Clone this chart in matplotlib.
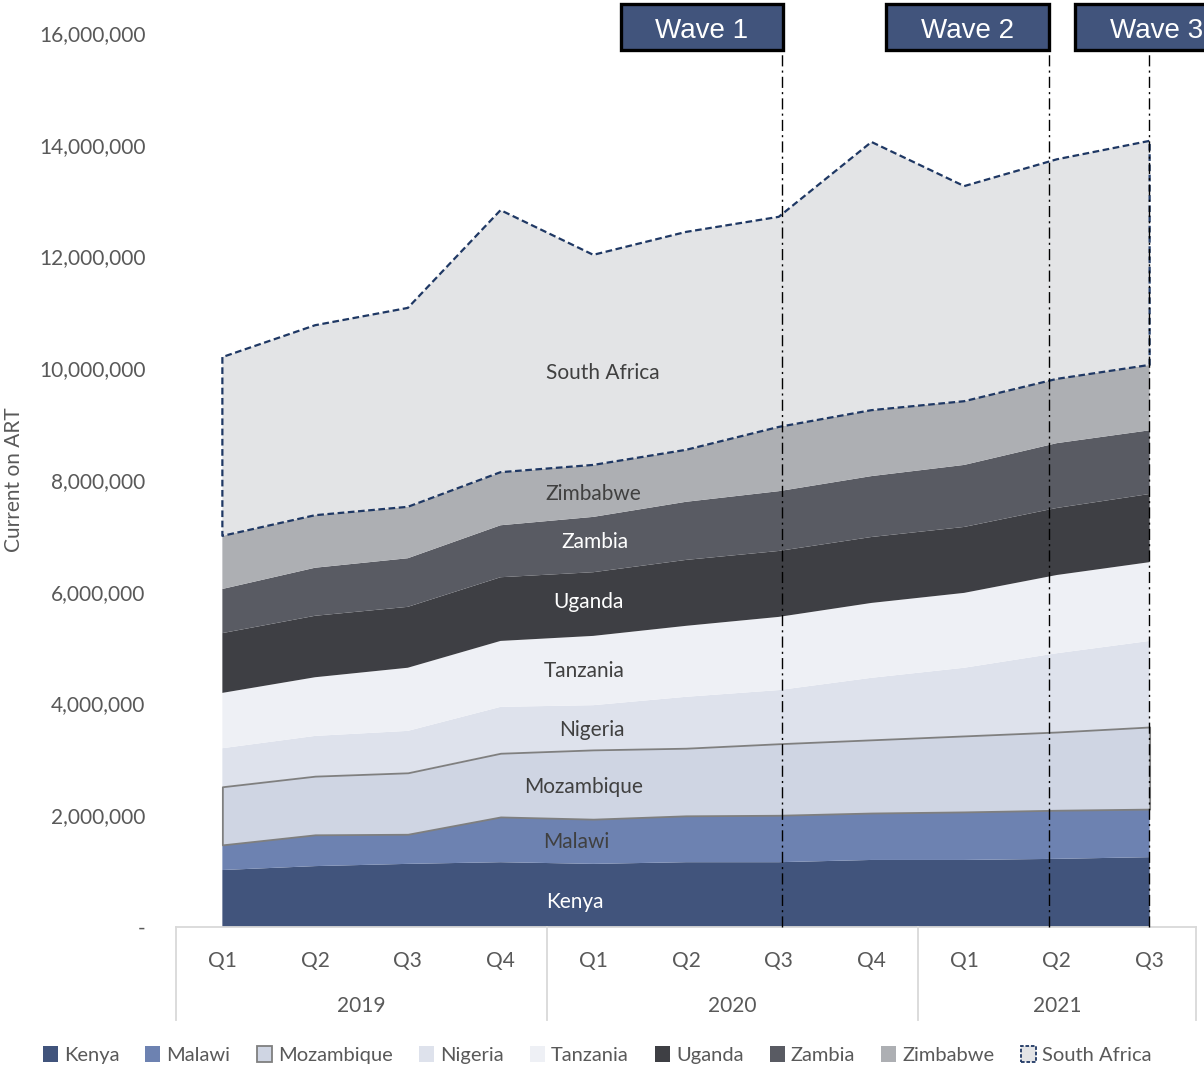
import matplotlib
matplotlib.use("Agg")
import matplotlib.pyplot as plt
from matplotlib.patches import Patch, Rectangle
from matplotlib.ticker import FuncFormatter
import matplotlib.transforms as mtransforms
import numpy as np

plt.rcParams["font.family"] = ["Lato", "DejaVu Sans"]

# quarterly current-on-ART counts, in thousands
quarters = ["Q1", "Q2", "Q3", "Q4", "Q1", "Q2", "Q3", "Q4", "Q1", "Q2", "Q3"]
years = ["2019", "2020", "2021"]
year_spans = [(0, 3), (4, 7), (8, 10)]

countries = ["Kenya", "Malawi", "Mozambique", "Nigeria", "Tanzania",
             "Uganda", "Zambia", "Zimbabwe", "South Africa"]
kenya = [1020, 1090, 1130, 1160, 1130, 1160, 1160, 1200, 1200, 1220, 1250]
malawi = [450, 560, 530, 810, 800, 830, 840, 840, 860, 870, 860]
mozambique = [1040, 1050, 1100, 1140, 1240, 1210, 1280, 1310, 1360, 1400, 1470]
nigeria = [690, 720, 750, 830, 800, 920, 960, 1110, 1220, 1410, 1540]
tanzania = [990, 1050, 1130, 1180, 1240, 1270, 1310, 1340, 1340, 1400, 1410]
uganda = [1070, 1100, 1090, 1140, 1140, 1180, 1180, 1180, 1180, 1200, 1220]
zambia = [790, 860, 870, 930, 990, 1040, 1070, 1090, 1110, 1160, 1140]
zimbabwe = [950, 940, 920, 950, 930, 930, 1150, 1180, 1140, 1150, 1170]
south_africa = [3200, 3400, 3560, 4690, 3760, 3900, 3760, 4800, 3850, 3930, 4010]

waves = ["Wave 1", "Wave 2", "Wave 3"]
wave_x = [6.03, 8.92, 9.99]

series = [kenya, malawi, mozambique, nigeria, tanzania,
          uganda, zambia, zimbabwe, south_africa]
colors = ["#41547c", "#6d82b1", "#cfd5e3", "#dee2ec", "#eef0f5",
          "#3e3f44", "#595b63", "#adafb3", "#e3e4e6"]
label_colors = ["white", "#404040", "#404040", "#404040", "#404040",
                "white", "white", "#404040", "#404040"]
label_dx = [-0.2, -0.18, -0.1, -0.02, -0.1, -0.05, 0.02, 0.0, 0.1]
label_dy = [-120, 0, -50, -50, 0, 30, 50, -50, -240]  # thousands
NAVY = "#1f3864"

fig = plt.figure(figsize=(12.04, 10.73), dpi=100)
ax = fig.add_axes([176 / 1204, 1 - 927 / 1073, 1020 / 1204, 894 / 1073])

x = np.arange(len(quarters))
base = np.zeros(len(x))
for name, vals, c in zip(countries, series, colors):
    top = base + np.array(vals) * 1000
    if name == "South Africa":
        ax.fill_between(x, base, top, facecolor=c, edgecolor=NAVY,
                        linestyle=(0, (3, 1.6)), linewidth=1.6, zorder=2)
    elif name == "Mozambique":
        ax.fill_between(x, base, top, facecolor=c, edgecolor="#7f7f7f",
                        linewidth=1.3, zorder=2)
    else:
        ax.fill_between(x, base, top, facecolor=c, edgecolor="none",
                        linewidth=0, zorder=1)
    base = top

# band labels at Q1 2020
base = np.zeros(len(x))
for i, (name, vals) in enumerate(zip(countries, series)):
    top = base + np.array(vals) * 1000
    k = 4
    ymid = (base[k] + top[k]) / 2 + label_dy[i] * 1000
    ax.text(k + label_dx[i], ymid, name, ha="center", va="center",
            fontsize=15, color=label_colors[i], zorder=5)
    base = top

ax.set_xlim(-0.5, 10.5)
ax.set_ylim(0, 16_000_000)
ax.set_yticks(np.arange(0, 16_000_001, 2_000_000))
ax.yaxis.set_major_formatter(FuncFormatter(lambda v, p: "-" if v == 0 else f"{int(v):,}"))
ax.tick_params(axis="y", length=0, pad=22, labelsize=15, labelcolor="#595959")
ax.set_xticks([])
for s in ["top", "right", "left"]:
    ax.spines[s].set_visible(False)
ax.spines["bottom"].set_color("#d9d9d9")
ax.spines["bottom"].set_linewidth(1.3)
ax.set_ylabel("Current on ART", fontsize=15, color="#595959")
ax.yaxis.set_label_coords(-0.149, 0.5)

# two-level category axis
trans = mtransforms.blended_transform_factory(ax.transData, ax.transAxes)
for i, q in enumerate(quarters):
    ax.text(i, -0.0375, q, transform=trans, ha="center", va="center",
            fontsize=15, color="#595959")
for yr, (a, b) in zip(years, year_spans):
    ax.text((a + b) / 2, -0.0885, yr, transform=trans, ha="center", va="center",
            fontsize=15, color="#595959")
for sx in [-0.5, 3.5, 7.5, 10.5]:
    ax.plot([sx, sx], [0, -0.104], transform=trans, color="#d9d9d9",
            linewidth=1.3, clip_on=False)

# wave markers
box_bottom = 15_696_000
box_h = 823_000
box_left = [4.30, 7.157, 9.195]
box_w = [1.746, 1.758, 1.75]
for w, wx, bl, bw in zip(waves, wave_x, box_left, box_w):
    ax.plot([wx, wx], [0, box_bottom], color="black", linewidth=1.0,
            linestyle=(0, (8, 3, 1.5, 3)), zorder=6, clip_on=False)
    ax.add_patch(Rectangle((bl, box_bottom), bw, box_h, facecolor="#41547c",
                           edgecolor="black", linewidth=2.4, zorder=7,
                           clip_on=False))
    ax.text(bl + bw / 2, box_bottom + box_h / 2 - 65_000, w, ha="center",
            va="center", fontsize=20, color="white", family=["Liberation Sans"],
            zorder=8, clip_on=False)

handles = []
for name, c in zip(countries, colors):
    if name == "South Africa":
        handles.append(Patch(facecolor=c, edgecolor=NAVY, linestyle=(0, (2, 1)), linewidth=1.3))
    elif name == "Mozambique":
        handles.append(Patch(facecolor=c, edgecolor="#7f7f7f", linewidth=1.3))
    else:
        handles.append(Patch(facecolor=c, edgecolor="none"))
fig.legend(handles, countries, loc="center", bbox_to_anchor=(597 / 1204, 1 - 1055 / 1073),
           ncol=9, frameon=False, fontsize=14.5, handlelength=0.75, handleheight=0.8,
           handletextpad=0.3, columnspacing=1.3, labelcolor="#595959")

fig.savefig("out.png", dpi=100)
